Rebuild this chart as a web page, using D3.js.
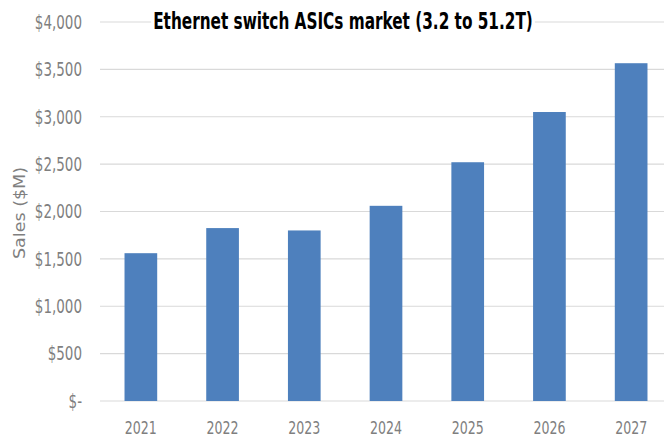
<!DOCTYPE html>
<html>
<head>
<meta charset="utf-8">
<script src="https://cdn.jsdelivr.net/npm/d3@7"></script>
<style>
    body { margin: 0; background: #fff; }
    text { font-family: "Liberation Sans Narrow", "DejaVu Sans Condensed", "Liberation Sans", sans-serif; }
</style>
</head>
<body>
<div id="chart"></div>
<script>
// data
const years = ["2021", "2022", "2023", "2024", "2025", "2026", "2027"];
const sales = [1560, 1825, 1800, 2060, 2520, 3050, 3565];
const yTicks = [0, 500, 1000, 1500, 2000, 2500, 3000, 3500, 4000];

const width = 664, height = 437;
const margin = {top: 22, right: -8, bottom: 36, left: 100};
// the reference text looks a bit stretched vertically
const stretch = 1.3;

const svg = d3.select("#chart").append("svg")
    .attr("width", width)
    .attr("height", height);

const x = d3.scaleBand()
    .domain(years)
    .range([margin.left, width - margin.right])
    .paddingInner(0.6)
    .paddingOuter(0.3);

const y = d3.scaleLinear()
    .domain([0, 4000])
    .range([height - margin.bottom, margin.top]);

const fmt = d => d === 0 ? "$-" : "$" + d3.format(",")(d);

// gridlines
svg.append("g")
    .selectAll("line")
    .data(yTicks)
    .join("line")
    .attr("x1", margin.left)
    .attr("x2", width)
    .attr("y1", d => y(d))
    .attr("y2", d => y(d))
    .attr("stroke", "#d9d9d9")
    .attr("stroke-width", 1.2);

// y tick labels
svg.append("g")
    .selectAll("text")
    .data(yTicks)
    .join("text")
    .attr("transform", d => `translate(82, ${y(d)}) scale(1, ${stretch})`)
    .attr("dy", "0.35em")
    .attr("text-anchor", "end")
    .attr("fill", "#7f7f7f")
    .style("font-size", "15px")
    .text(fmt);

// bars
svg.append("g")
    .selectAll("rect")
    .data(sales)
    .join("rect")
    .attr("x", (d, i) => x(years[i]))
    .attr("y", d => y(d))
    .attr("width", x.bandwidth())
    .attr("height", d => y(0) - y(d))
    .attr("fill", "#4e80bd");

// x labels
svg.append("g")
    .selectAll("text")
    .data(years)
    .join("text")
    .attr("transform", d => `translate(${x(d) + x.bandwidth() / 2}, 434) scale(1, ${stretch})`)
    .attr("text-anchor", "middle")
    .attr("fill", "#7f7f7f")
    .style("font-size", "14px")
    .text(d => d);

// y axis title
svg.append("text")
    .attr("transform", `translate(25, 213) rotate(-90) scale(${stretch}, 1)`)
    .attr("text-anchor", "middle")
    .attr("fill", "#7f7f7f")
    .style("font-size", "15px")
    .text("Sales ($M)");

// white backing so the top gridline stops at the title
const titleBox = svg.append("rect").attr("fill", "#fff");

const title = svg.append("text")
    .attr("transform", `translate(343, 29) scale(1, ${stretch})`)
    .attr("text-anchor", "middle")
    .attr("fill", "#000")
    .style("font-size", "17px")
    .style("font-weight", "bold")
    .text("Ethernet switch ASICs market (3.2 to 51.2T)");

const bb = title.node().getBBox();
titleBox
    .attr("x", 343 + bb.x - 2)
    .attr("y", 29 + bb.y * stretch)
    .attr("width", bb.width + 4)
    .attr("height", bb.height * stretch);
</script>
</body>
</html>
